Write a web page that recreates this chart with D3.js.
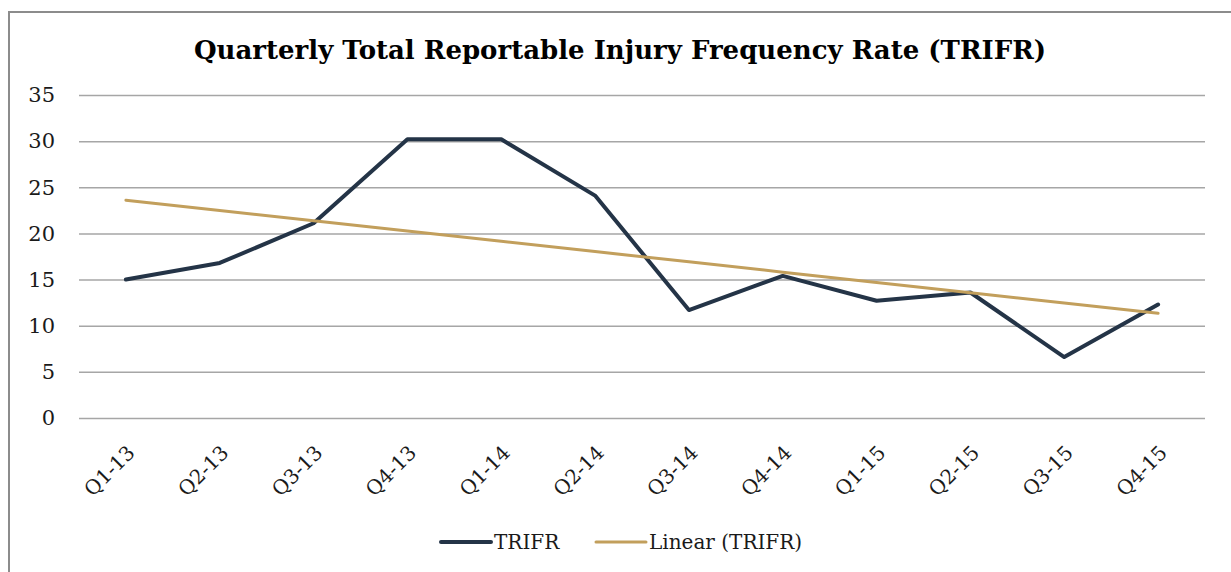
<!DOCTYPE html>
<html>
<head>
<meta charset="utf-8">
<script src="https://cdn.jsdelivr.net/npm/d3@7"></script>
<style>
  body { margin: 0; background: #fff; }
  text { font-family: "DejaVu Serif", "Liberation Serif", serif; fill: #1a1a1a; }
</style>
</head>
<body>
<svg id="chart" width="1231" height="572"></svg>
<script>
var quarters = ["Q1-13", "Q2-13", "Q3-13", "Q4-13", "Q1-14", "Q2-14",
                "Q3-14", "Q4-14", "Q1-15", "Q2-15", "Q3-15", "Q4-15"];
var trifr = [15.0, 16.8, 21.1, 30.2, 30.2, 24.1, 11.7, 15.4, 12.7, 13.6, 6.6, 12.3];
var yTicks = [0, 5, 10, 15, 20, 25, 30, 35];
var seriesNames = ["TRIFR", "Linear (TRIFR)"];

var svg = d3.select("#chart"),
  margin = { top: 95, right: 26, bottom: 154, left: 79 },
  width = +svg.attr("width") - margin.left - margin.right,
  height = +svg.attr("height") - margin.top - margin.bottom;

// outer frame
svg.append("rect")
  .attr("x", 9).attr("y", 12)
  .attr("width", 1240).attr("height", 580)
  .attr("fill", "none")
  .attr("stroke", "#8c8c8c")
  .attr("stroke-width", 2);

svg.append("text")
  .attr("x", 620).attr("y", 59)
  .attr("text-anchor", "middle")
  .style("font-size", "26px")
  .style("font-weight", "bold")
  .style("fill", "#000")
  .text("Quarterly Total Reportable Injury Frequency Rate (TRIFR)");

var g = svg.append("g")
  .attr("transform", "translate(" + margin.left + "," + margin.top + ")");

var x = d3.scaleBand().domain(quarters).range([0, width]);
var y = d3.scaleLinear().domain([0, 35]).range([height, 0]);

// gridlines + y labels
var yAxis = g.append("g")
  .call(d3.axisLeft(y).tickValues(yTicks).tickSize(-width).tickPadding(24));
yAxis.select(".domain").remove();
yAxis.selectAll(".tick line").attr("stroke", "#a6a6a6").attr("stroke-width", 1.5);
yAxis.selectAll(".tick text")
  .style("font-size", "21px")
  .attr("fill", "#1a1a1a");

// x labels
var xAxis = g.append("g")
  .attr("transform", "translate(0," + height + ")")
  .call(d3.axisBottom(x).tickSize(0));
xAxis.select(".domain").remove();
xAxis.selectAll(".tick text")
  .style("font-size", "20px")
  .attr("fill", "#1a1a1a")
  .attr("text-anchor", "end")
  .attr("dy", "0.35em")
  .attr("transform", "translate(3,29) rotate(-45)");

// linear trend from least squares fit
var xm = d3.mean(trifr, function(d, i) { return i + 1; }),
  ym = d3.mean(trifr),
  sxy = d3.sum(trifr, function(d, i) { return (i + 1 - xm) * (d - ym); }),
  sxx = d3.sum(trifr, function(d, i) { return (i + 1 - xm) * (i + 1 - xm); }),
  slope = sxy / sxx,
  intercept = ym - slope * xm;
var trend = quarters.map(function(q, i) { return intercept + slope * (i + 1); });

var line = d3.line()
  .x(function(d, i) { return x(quarters[i]) + x.bandwidth() / 2; })
  .y(function(d) { return y(d); });

g.append("path")
  .datum(trifr)
  .attr("fill", "none")
  .attr("stroke", "#243447")
  .attr("stroke-width", 4)
  .attr("stroke-linecap", "round")
  .attr("stroke-linejoin", "round")
  .attr("d", line);

g.append("path")
  .datum(trend)
  .attr("fill", "none")
  .attr("stroke", "#c29f5c")
  .attr("stroke-width", 3)
  .attr("stroke-linecap", "round")
  .attr("d", line);

// legend
var legend = svg.append("g").attr("transform", "translate(441,542)");
var colors = ["#243447", "#c29f5c"];
var offsets = [0, 155];
seriesNames.forEach(function(name, i) {
  var lg = legend.append("g").attr("transform", "translate(" + offsets[i] + ",0)");
  lg.append("line")
    .attr("x1", 0).attr("x2", 50)
    .attr("stroke", colors[i])
    .attr("stroke-width", i === 0 ? 4 : 3)
    .attr("stroke-linecap", "round");
  lg.append("text")
    .attr("x", 53).attr("dy", "0.35em")
    .style("font-size", "20px")
    .text(name);
});
</script>
</body>
</html>
